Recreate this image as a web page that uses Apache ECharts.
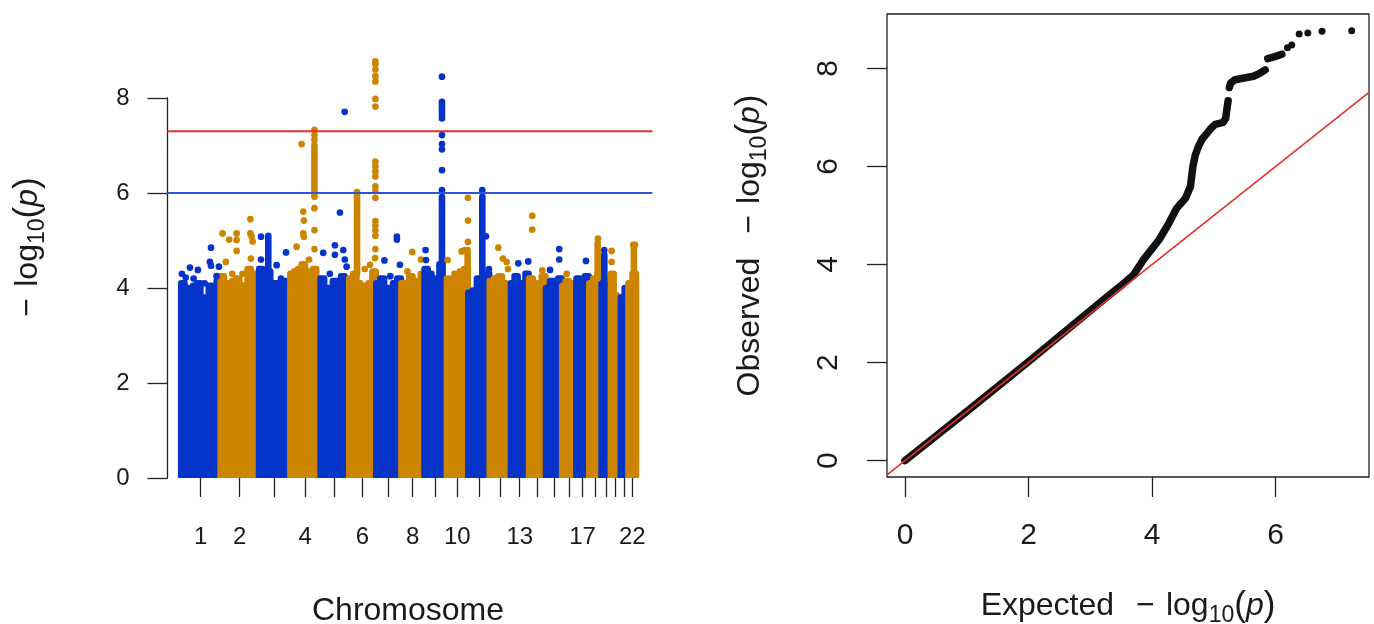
<!DOCTYPE html>
<html><head><meta charset="utf-8">
<script src="https://cdn.jsdelivr.net/npm/echarts@6/dist/echarts.min.js"></script>
<style>html,body{margin:0;padding:0;background:#fff}#c{width:1374px;height:624px}</style>
</head><body><div id="c"></div>
<script>
// ---------- DATA ----------
const chromLabels = ['1','2','3','4','5','6','7','8','9','10','11','12','13','14','15','16','17','18','19','20','21','22'];
const chromLenMb = [249,243,198,191,181,171,159,146,141,136,135,134,115,107,102,90,81,78,59,63,48,51];
const shownChromLabels = ['1','2','4','6','8','10','13','17','22'];
const manhattanYTicks = [0,2,4,6,8];
const suggestiveLine = 6;
const genomeWideLine = 7.3;

// top of the dense point mass, read left->right within each chromosome
const massTop = [
  [4.1,4.0,3.95,4.05,4.1,3.7,3.8,4.05,3.9,4.15],
  [4.25,4.1,4.1,4.15,4.2,4.05,4.05,4.4,4.3,4.1],
  [4.4,4.2,4.35,4.0,4.1,3.85,4.15,3.95],
  [4.3,4.35,4.4,4.5,4.35,4.25,4.4,4.2],
  [4.2,4.0,3.9,4.15,3.95,4.25,4.05],
  [4.2,4.3,4.1,4.0,4.05,4.1,4.35],
  [4.1,4.2,4.0,3.9,4.1,4.2],
  [4.1,4.1,4.25,4.15,4.1,4.3],
  [4.4,4.3,3.95,4.2,4.5,4.1],
  [4.2,4.1,4.25,4.35,4.4],
  [3.9,3.95,4.2,4.2,4.3],
  [4.15,4.2,4.25,4.1,4.0],
  [4.1,4.25,4.0,4.1,4.3],
  [4.2,4.1,4.05,4.25],
  [4.0,4.15,3.85,4.2],
  [4.05,4.15,4.0,4.1],
  [4.2,4.0,4.25],
  [4.1,4.2,4.3],
  [4.2,4.05,3.95],
  [4.3,3.85,3.8],
  [3.8,4.0],
  [4.1,4.3]
];
// dense vertical runs of points: [chrom, posMb, low, high]
const streaks = [
  [3,60,4.4,5.10],[4,154,5.92,7.01],[6,51,4.3,6.02],[9,112,4.4,5.92],[9,112,7.57,7.92],
  [10,133,4.3,4.8],[11,90,4.2,5.92],[18,55,4.2,4.95],[19,19,4.1,4.7],[22,36,4.3,4.85]
];
// isolated points: [chrom, posMb, -log10 p]
const hits = [
  [1,6,4.30],[1,30,4.22],[1,57,4.43],[1,80,4.2],[1,107,4.38],[1,150,4.1],[1,183,4.55],[1,190,4.85],[1,190,4.47],[1,240,4.45],[1,225,4.25],
  [2,14,5.15],[2,35,4.55],[2,56,5.02],[2,75,4.3],[2,103,5.15],[2,103,5.01],[2,103,4.78],[2,140,4.3],[2,190,5.45],[2,190,5.15],[2,193,4.62],[2,198,5.08],[2,204,4.98],
  [3,14,5.08],[3,14,4.60],[3,113,4.48],[3,140,4.2],[3,172,4.75],
  [4,41,4.87],[4,73,7.03],[4,83,5.61],[4,87,5.42],[4,83,5.15],[4,87,5.08],[4,120,4.6],[4,154,7.33],[4,154,7.22],[4,154,7.12],[4,154,5.68],[4,154,5.22],[4,154,4.82],
  [5,18,4.74],[5,60,4.3],[5,92,4.90],[5,92,4.70],[5,124,5.59],[5,145,4.80],[5,154,7.71],[5,155,4.60],[5,166,4.45],
  [6,100,4.4],[6,167,8.77],[6,167,8.71],[6,167,8.60],[6,167,8.46],[6,167,8.35],[6,167,7.98],[6,167,7.82],[6,167,6.66],[6,167,6.56],[6,167,6.46],[6,167,6.35],[6,167,6.14],[6,167,6.04],[6,167,5.90],[6,167,5.41],[6,167,5.31],[6,167,5.21],[6,167,5.10],[6,167,4.82],[6,165,4.63],[6,133,4.49],
  [7,53,4.58],[7,90,4.25],[7,132,5.08],[7,132,5.02],[7,151,4.49],
  [8,70,4.76],[8,40,4.35],[8,125,4.60],
  [9,8,4.80],[9,11,4.59],[9,112,6.06],[9,112,6.48],[9,112,6.92],[9,112,7.03],[9,112,7.22],[9,112,8.45],
  [10,7,4.59],[10,50,4.3],[10,95,4.77],[10,116,4.80],[10,135,5.90],[10,135,5.42],[10,135,4.97],
  [11,90,6.06],[11,113,5.09],[11,132,4.40],
  [12,56,4.85],[12,85,4.62],[12,109,4.55],[12,117,4.40],
  [13,48,4.52],[13,111,4.56],
  [14,21,5.52],[14,21,5.23],[14,85,4.37],
  [15,27,4.38],[15,85,4.82],[15,85,4.60],
  [16,30,4.3],
  [17,62,4.57],
  [18,57,5.04],
  [19,19,4.80],
  [20,6,4.78],[20,6,4.55],
  [22,32,4.91],[22,43,4.91]
];

// QQ plot: [expected, observed]
const qqTicksX = [0,2,4,6];
const qqTicksY = [0,2,4,6,8];
const qqSegA = [[0,0],[0.5,0.5],[1,1],[1.5,1.51],[2,2.02],[2.5,2.54],[3,3.06],[3.24,3.31],[3.48,3.55],[3.7,3.79],[3.86,4.1],[4.11,4.5],[4.27,4.84],[4.4,5.15],[4.54,5.35],[4.62,5.59],[4.66,6.0],[4.7,6.24],[4.75,6.41],[4.81,6.56],[4.89,6.68],[4.94,6.76],[5.02,6.86],[5.15,6.9],[5.19,6.98],[5.21,7.17],[5.23,7.34]];
const qqSegB = [[5.25,7.61],[5.27,7.70],[5.34,7.77],[5.47,7.80],[5.64,7.84],[5.74,7.90],[5.83,7.97]];
const qqSegC = [[5.87,8.20],[5.93,8.22],[6.01,8.25],[6.10,8.29]];
const qqDots = [[6.19,8.42],[6.26,8.48],[6.38,8.70],[6.52,8.72],[6.75,8.76],[7.23,8.77]];
const qqRefLine = [[-0.291,-0.291],[7.51,7.51]];

// ---------- BUILD ----------
const BLUE = '#0633C8', ORANGE = '#CD8500', RED = '#E3302B', LBLUE = '#2F55D4', INK = '#1a1a1a';
const FONT = 'Liberation Sans';
const chromStart = []; let acc = 0;
chromLenMb.forEach(l => { chromStart.push(acc); acc += l; });
const chromMid = chromLenMb.map((l,i) => chromStart[i] + l/2);
const shownMid = shownChromLabels.map(s => chromMid[chromLabels.indexOf(s)]);
const xMin = -85, xMax = 2980;

const massData = [];
massTop.forEach((tops, ci) => {
  const w = chromLenMb[ci] / tops.length;
  tops.forEach((t, j) => massData.push([chromStart[ci] + j*w, chromStart[ci] + (j+1)*w, t, ci % 2]));
});
const streakData = streaks.map(s => [chromStart[s[0]-1] + s[1], s[2], s[3], (s[0]-1) % 2]);
const hitData = hits.map(h => [chromStart[h[0]-1] + h[1], h[2], (h[0]-1) % 2]);

function renderMass(params, api) {
  const a = api.coord([api.value(0), 0]);
  const b = api.coord([api.value(1), api.value(2)]);
  const col = api.value(3) ? ORANGE : BLUE;
  const left = a[0] - 3, right = b[0] + 3, top = b[1] - 3.2;
  return { type: 'rect', shape: { x: left, y: top, width: right - left, height: a[1] - top, r: [3.2,3.2,0,0] }, style: { fill: col } };
}
function renderStreak(params, api) {
  const a = api.coord([api.value(0), api.value(1)]);
  const b = api.coord([api.value(0), api.value(2)]);
  const col = api.value(3) ? ORANGE : BLUE;
  return { type: 'line', shape: { x1: a[0], y1: a[1], x2: b[0], y2: b[1] }, style: { stroke: col, lineWidth: 6.6, lineCap: 'round' } };
}

const mctx = document.createElement('canvas').getContext('2d');
function fstr(p){ return (p.italic ? 'italic ' : '') + p.size + 'px "' + FONT + '"'; }
function buildTitle(parts, cx, cy, rotation) {
  const widths = parts.map(p => { if (p.gap) return p.gap; mctx.font = fstr(p); return mctx.measureText(p.t).width; });
  const total = widths.reduce((a,b) => a+b, 0);
  let x = -total/2; const children = [];
  parts.forEach((p,i) => {
    if (!p.gap) children.push({ type: 'text', x: x, y: p.dy || 0, style: { text: p.t, fontSize: p.size, fontFamily: FONT, fontStyle: p.italic ? 'italic' : 'normal', fill: INK, align: 'left', verticalAlign: 'middle' } });
    x += widths[i];
  });
  return { type: 'group', x: cx, y: cy, rotation: rotation || 0, children };
}
function logParts(S) {
  const s = Math.round(S*0.72);
  const dy = 0.31*S + 0.2*S - 0.31*s;
  return [{t:'−',size:S},{gap:S*0.35},{t:'log',size:S},{t:'10',size:s,dy:dy},{t:'(',size:S+3},{t:'p',size:S,italic:true},{t:')',size:S+3}];
}

const tickStyle = { color: '#222', width: 1.3 };
const option = {
  animation: false,
  backgroundColor: '#fff',
  textStyle: { fontFamily: FONT },
  grid: [
    { left: 167.5, top: 98, width: 484.9, height: 380 },
    { left: 887, top: 14, width: 482, height: 463, show: true, borderColor: '#222', borderWidth: 1.3, backgroundColor: 'transparent' }
  ],
  xAxis: [
    { gridIndex: 0, type: 'value', min: xMin, max: xMax, axisLine: { show: false, onZero: false }, splitLine: { show: false },
      axisTick: { show: true, customValues: chromMid, length: 19, lineStyle: tickStyle },
      axisLabel: { customValues: shownMid, fontSize: 24, margin: 47, color: INK, fontFamily: FONT,
        formatter: v => { const i = chromMid.findIndex(m => Math.abs(m - v) < 0.5); return i >= 0 ? chromLabels[i] : ''; } } },
    { gridIndex: 1, type: 'value', min: -0.291, max: 7.51, axisLine: { show: false, onZero: false }, splitLine: { show: false },
      axisTick: { show: true, customValues: qqTicksX, length: 20, lineStyle: tickStyle },
      axisLabel: { customValues: qqTicksX, fontSize: 30, margin: 44, color: INK, fontFamily: FONT } }
  ],
  yAxis: [
    { gridIndex: 0, type: 'value', min: 0, max: 8, interval: 2, axisLine: { show: true, onZero: false, lineStyle: tickStyle }, splitLine: { show: false },
      axisTick: { show: true, customValues: manhattanYTicks, length: 20, lineStyle: tickStyle },
      axisLabel: { customValues: manhattanYTicks, fontSize: 24, margin: 38, color: INK, fontFamily: FONT } },
    { gridIndex: 1, type: 'value', min: -0.335, max: 9.11, axisLine: { show: false, onZero: false }, splitLine: { show: false },
      axisTick: { show: true, customValues: qqTicksY, length: 20, lineStyle: tickStyle },
      axisLabel: { customValues: qqTicksY, rotate: 90, fontSize: 30, margin: 43, color: INK, fontFamily: FONT } }
  ],
  series: [
    { type: 'custom', xAxisIndex: 0, yAxisIndex: 0, data: massData, renderItem: renderMass, clip: false, silent: true, z: 2 },
    { type: 'custom', xAxisIndex: 0, yAxisIndex: 0, data: streakData, renderItem: renderStreak, clip: false, silent: true, z: 3 },
    { type: 'scatter', xAxisIndex: 0, yAxisIndex: 0, data: hitData, symbolSize: 6.7, clip: false, silent: true, z: 4,
      itemStyle: { color: p => p.value[2] ? ORANGE : BLUE, opacity: 1 } },
    { type: 'line', xAxisIndex: 0, yAxisIndex: 0, data: [[xMin, genomeWideLine],[xMax, genomeWideLine]], symbol: 'none', silent: true, z: 6,
      lineStyle: { color: RED, width: 2 } },
    { type: 'line', xAxisIndex: 0, yAxisIndex: 0, data: [[xMin, suggestiveLine],[xMax, suggestiveLine]], symbol: 'none', silent: true, z: 6,
      lineStyle: { color: LBLUE, width: 2 } },
    { type: 'line', xAxisIndex: 1, yAxisIndex: 1, data: qqSegA, symbol: 'none', silent: true, z: 3, lineStyle: { color: '#111', width: 7.5, cap: 'round', join: 'round' } },
    { type: 'line', xAxisIndex: 1, yAxisIndex: 1, data: qqSegB, symbol: 'none', silent: true, z: 3, lineStyle: { color: '#111', width: 7.5, cap: 'round', join: 'round' } },
    { type: 'line', xAxisIndex: 1, yAxisIndex: 1, data: qqSegC, symbol: 'none', silent: true, z: 3, lineStyle: { color: '#111', width: 7.5, cap: 'round', join: 'round' } },
    { type: 'scatter', xAxisIndex: 1, yAxisIndex: 1, data: qqDots, symbolSize: 7, silent: true, z: 3, itemStyle: { color: '#111', opacity: 1 } },
    { type: 'line', xAxisIndex: 1, yAxisIndex: 1, data: qqRefLine, symbol: 'none', silent: true, z: 6, lineStyle: { color: RED, width: 1.6 } }
  ],
  graphic: [
    buildTitle(logParts(32), 28, 247, Math.PI/2),
    buildTitle([{t:'Chromosome',size:32}], 408, 611),
    buildTitle([{t:'Expected',size:32},{gap:22}].concat(logParts(32)), 1128, 606),
    buildTitle([{t:'Observed',size:32},{gap:24}].concat(logParts(32)), 750, 245.5, Math.PI/2)
  ]
};
const chart = echarts.init(document.getElementById('c'), null, { renderer: 'canvas' });
chart.setOption(option);
</script>
</body></html>
